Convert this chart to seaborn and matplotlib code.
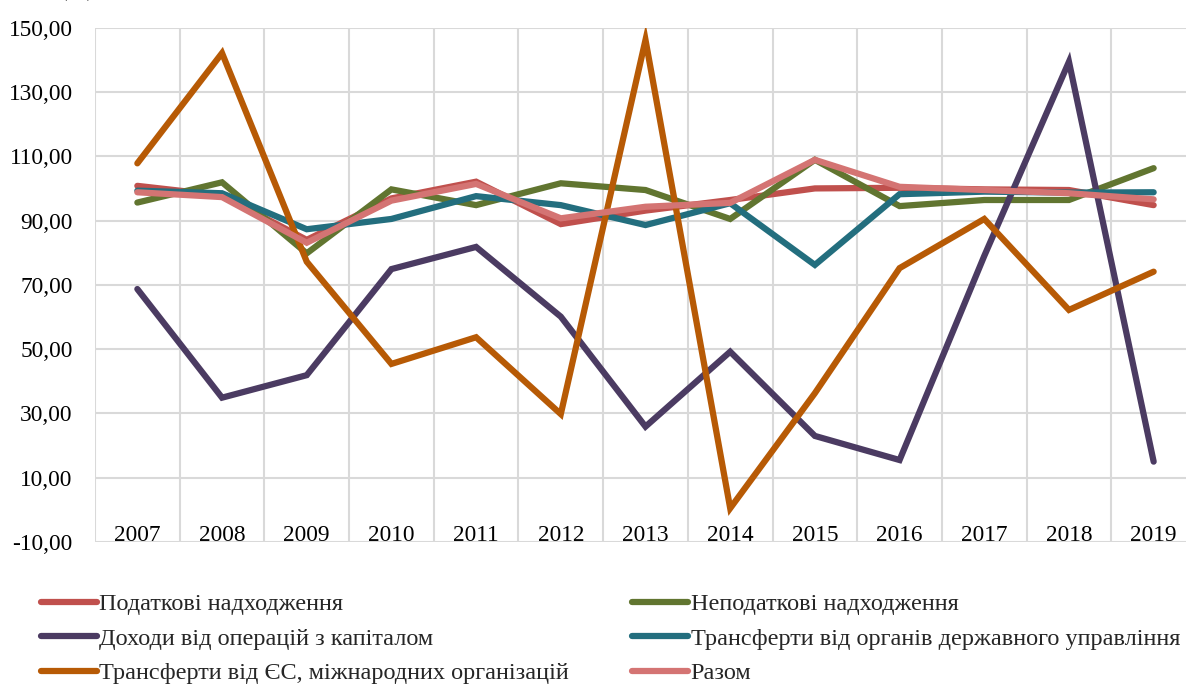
import pandas as pd
import numpy as np
import matplotlib
matplotlib.use("Agg")
import matplotlib.pyplot as plt
from matplotlib.ticker import FuncFormatter
import seaborn as sns

years = ["2007", "2008", "2009", "2010", "2011", "2012", "2013",
         "2014", "2015", "2016", "2017", "2018", "2019"]

tax = [100.8, 97.8, 84.0, 96.9, 102.1, 88.9, 93.1, 96.4, 100.0, 100.2, 99.7, 99.5, 94.8]
nontax = [95.6, 101.9, 79.8, 99.7, 94.8, 101.6, 99.5, 90.5, 108.9, 94.5, 96.4, 96.4, 106.3]
capital = [68.7, 34.9, 41.9, 74.9, 81.8, 60.1, 25.9, 49.2, 23.0, 15.5, 79.0, 139.4, 15.0]
gov_transfers = [99.3, 98.5, 87.3, 90.5, 97.6, 94.8, 88.6, 95.4, 76.2, 98.2, 99.0, 98.7, 98.8]
eu_transfers = [107.8, 142.1, 77.2, 45.4, 53.7, 29.8, 146.2, 0.5, 36.3, 75.2, 90.5, 62.2, 74.1]
total = [98.8, 97.3, 83.1, 96.2, 101.4, 90.7, 94.3, 95.5, 108.9, 100.5, 99.5, 98.5, 96.6]

series_names = [
    "Податкові надходження",
    "Неподаткові надходження",
    "Доходи від операцій з капіталом",
    "Трансферти від органів державного управління",
    "Трансферти від ЄС, міжнародних організацій",
    "Разом",
]
series_values = [tax, nontax, capital, gov_transfers, eu_transfers, total]
colors = ["#C0504D", "#617530", "#4B3B62", "#236E7E", "#B75A05", "#D47473"]
y_ticks = [-10, 10, 30, 50, 70, 90, 110, 130, 150]

# long-form table for seaborn
rows = []
for name, vals in zip(series_names, series_values):
    for i, v in enumerate(vals):
        rows.append({"pos": i, "year": years[i], "series": name, "value": v})
df = pd.DataFrame(rows)

sns.set_style("white")
plt.rcParams["font.family"] = ["Liberation Serif", "DejaVu Serif"]

fig = plt.figure(figsize=(11.86, 6.87), dpi=100)
ax = fig.add_axes([95 / 1186, 1 - 542 / 687, 1101 / 1186, (542 - 27.7) / 687])

sns.lineplot(data=df, x="pos", y="value", hue="series", hue_order=series_names,
             palette=colors, linewidth=4.5, ax=ax, sort=False,
             solid_capstyle="round", solid_joinstyle="miter")

ax.set_xlim(-0.5, len(years) - 0.5)
ax.set_ylim(-10, 150)
ax.set_yticks(y_ticks)
ax.yaxis.set_major_formatter(FuncFormatter(lambda v, p: f"{v:.2f}".replace(".", ",")))
ax.set_xticks(range(len(years)))
ax.set_xticklabels(years)
ax.set_xticks(np.arange(-0.5, len(years), 1), minor=True)

ax.grid(False)
ax.grid(True, axis="y", which="major", color="#D9D9D9", linewidth=1.5)
ax.grid(True, axis="x", which="minor", color="#D9D9D9", linewidth=1.5)
ax.set_axisbelow(True)
for s in ax.spines.values():
    s.set_visible(False)

ax.tick_params(axis="y", length=0, pad=16, labelsize=16.8, colors="black")
ax.tick_params(axis="x", which="major", length=0, pad=-12, labelsize=16.8, colors="black")
ax.tick_params(axis="x", which="minor", length=0)
ax.set_xlabel("")
ax.set_ylabel("")

# axis unit label, mostly above the visible area as in the source image
fig.text(60 / 1186, 1 - 1 / 687, "(%)", fontsize=16.5, va="bottom")

handles, labels = ax.get_legend_handles_labels()
order = [0, 2, 4, 1, 3, 5]
ax.legend([handles[i] for i in order], [labels[i] for i in order],
          ncol=2, loc="upper left", bbox_to_anchor=(41 / 1186, 1 - 593 / 687),
          bbox_transform=fig.transFigure, frameon=False, fontsize=17.5,
          handlelength=2.3, handletextpad=0.1, columnspacing=2.6,
          labelspacing=0.52, borderaxespad=0, borderpad=0)

fig.savefig("out.png", dpi=100)
